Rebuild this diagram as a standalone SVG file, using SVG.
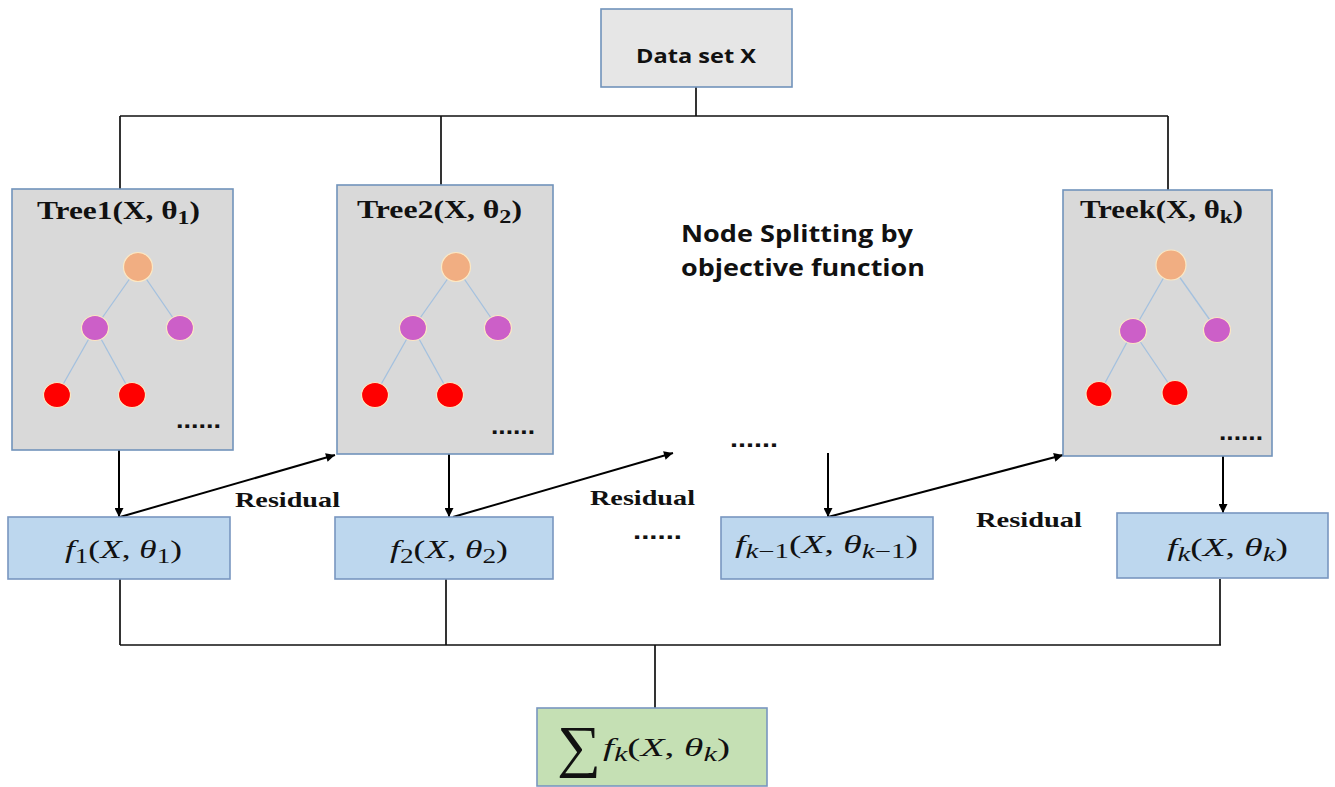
<svg xmlns="http://www.w3.org/2000/svg" width="1335" height="787" viewBox="0 0 1335 787">
  <defs>
    <marker id="arr" viewBox="0 0 10 10" refX="10" refY="5" markerWidth="11" markerHeight="9" markerUnits="userSpaceOnUse" orient="auto">
      <path d="M0,0 L10,5 L0,10 z" fill="#000"/>
    </marker>
    <style>
      .tree { fill: #d9d9d9; stroke: #7193bb; stroke-width: 1.6; }
      .data { fill: #e6e6e6; stroke: #7193bb; stroke-width: 1.6; }
      .fbox { fill: #bdd7ee; stroke: #7896c0; stroke-width: 1.6; }
      .sbox { fill: #c5e0b4; stroke: #7896c0; stroke-width: 1.6; }
      .wire { stroke: #111; stroke-width: 1.7; fill: none; }
      .arrow { stroke: #000; stroke-width: 2; fill: none; marker-end: url(#arr); }
      .edge { stroke: #a4c1df; stroke-width: 1.3; }
      .root { fill: #f1ae82; stroke: #fbe8c4; stroke-width: 1.2; }
      .mid { fill: #cc5fc8; stroke: #fbe8c4; stroke-width: 1.2; }
      .leaf { fill: #ff0000; stroke: #fbe8c4; stroke-width: 1.2; }
      .sans { font-family: "Open Sans", "Liberation Sans", sans-serif; font-weight: bold; fill: #111; }
      .ttl { font-family: "Liberation Serif", "DejaVu Serif", serif; font-weight: bold; font-size: 25px; fill: #111; }
      .ttl .sub { font-size: 19px; }
      .res { font-family: "Liberation Serif", serif; font-weight: bold; font-size: 22px; fill: #111; }
      .math { font-family: "Liberation Serif", "DejaVu Serif", serif; font-style: italic; font-size: 26px; fill: #111; }
      .up { font-style: normal; }
      .sub { font-size: 20px; }
      .dots { font-family: "Liberation Sans", sans-serif; font-weight: bold; font-size: 24px; fill: #111; }
    </style>
  </defs>

  <!-- connectors -->
  <g id="connectors">
    <path class="wire" d="M696,87 V116 M120,116 H1168 M120,116 V189 M441,116 V185 M1168,116 V190"/>
    <path class="wire" d="M120,579 V645 M446,579 V645 M1220,579 V645 M120,645 H1221 M655,645 V708"/>
    <line class="arrow" x1="119" y1="450" x2="119" y2="517"/>
    <line class="arrow" x1="449" y1="454" x2="449" y2="517"/>
    <line class="arrow" x1="828" y1="453" x2="828" y2="517"/>
    <line class="arrow" x1="1223" y1="456" x2="1223" y2="513"/>
    <line class="arrow" x1="120" y1="517" x2="335" y2="455"/>
    <line class="arrow" x1="453" y1="517" x2="673" y2="453"/>
    <line class="arrow" x1="828" y1="517" x2="1063" y2="455"/>
  </g>

  <g id="data-set">
    <rect class="data" x="601" y="9" width="191" height="78"/>
    <text class="sans" x="696" y="63" font-size="19" text-anchor="middle" textLength="120" lengthAdjust="spacingAndGlyphs">Data set X</text>
  </g>

  <g id="tree1">
    <rect class="tree" x="12" y="189" width="221" height="261"/>
    <text class="ttl" x="37" y="219" textLength="163" lengthAdjust="spacingAndGlyphs">Tree1(X, θ<tspan class="sub" dy="5">1</tspan><tspan dy="-5">)</tspan></text>
    <line class="edge" x1="138" y1="267" x2="95" y2="328"/>
    <line class="edge" x1="138" y1="267" x2="180" y2="328"/>
    <line class="edge" x1="95" y1="328" x2="57" y2="395"/>
    <line class="edge" x1="95" y1="328" x2="132" y2="395"/>
    <circle class="root" cx="138" cy="267" r="14.5"/>
    <ellipse class="mid" cx="95" cy="328" rx="13.5" ry="12.5"/>
    <ellipse class="mid" cx="180" cy="328" rx="13.5" ry="12.5"/>
    <ellipse class="leaf" cx="57" cy="395" rx="13.5" ry="12.5"/>
    <ellipse class="leaf" cx="132" cy="395" rx="13.5" ry="12.5"/>
    <text class="dots" x="176" y="428" textLength="45" lengthAdjust="spacingAndGlyphs">......</text>
  </g>

  <g id="tree2">
    <rect class="tree" x="337" y="185" width="216" height="269"/>
    <text class="ttl" x="357" y="218" textLength="165" lengthAdjust="spacingAndGlyphs">Tree2(X, θ<tspan class="sub" dy="5">2</tspan><tspan dy="-5">)</tspan></text>
    <line class="edge" x1="456" y1="267" x2="413" y2="328"/>
    <line class="edge" x1="456" y1="267" x2="498" y2="328"/>
    <line class="edge" x1="413" y1="328" x2="375" y2="395"/>
    <line class="edge" x1="413" y1="328" x2="450" y2="395"/>
    <circle class="root" cx="456" cy="267" r="14.5"/>
    <ellipse class="mid" cx="413" cy="328" rx="13.5" ry="12.5"/>
    <ellipse class="mid" cx="498" cy="328" rx="13.5" ry="12.5"/>
    <ellipse class="leaf" cx="375" cy="395" rx="13.5" ry="12.5"/>
    <ellipse class="leaf" cx="450" cy="395" rx="13.5" ry="12.5"/>
    <text class="dots" x="491" y="434" textLength="44" lengthAdjust="spacingAndGlyphs">......</text>
  </g>

  <g id="treek">
    <rect class="tree" x="1063" y="190" width="209" height="266"/>
    <text class="ttl" x="1080" y="218" textLength="163" lengthAdjust="spacingAndGlyphs">Treek(X, θ<tspan class="sub" dy="5">k</tspan><tspan dy="-5">)</tspan></text>
    <line class="edge" x1="1171" y1="265" x2="1133" y2="331"/>
    <line class="edge" x1="1171" y1="265" x2="1217" y2="330"/>
    <line class="edge" x1="1133" y1="331" x2="1099" y2="394"/>
    <line class="edge" x1="1133" y1="331" x2="1175" y2="393"/>
    <circle class="root" cx="1171" cy="265" r="15"/>
    <ellipse class="mid" cx="1133" cy="331" rx="13.5" ry="12.5"/>
    <ellipse class="mid" cx="1217" cy="330" rx="13.5" ry="12.5"/>
    <ellipse class="leaf" cx="1099" cy="394" rx="13" ry="12.5"/>
    <ellipse class="leaf" cx="1175" cy="393" rx="13" ry="12.5"/>
    <text class="dots" x="1219" y="440" textLength="44" lengthAdjust="spacingAndGlyphs">......</text>
  </g>

  <g id="note">
    <text class="sans" x="681" y="242" font-size="23.5" textLength="232" lengthAdjust="spacingAndGlyphs">Node Splitting by</text>
    <text class="sans" x="681" y="276" font-size="23.5" textLength="244" lengthAdjust="spacingAndGlyphs">objective function</text>
  </g>

  <g id="residual-labels">
    <text class="res" x="235" y="507" textLength="105" lengthAdjust="spacingAndGlyphs">Residual</text>
    <text class="res" x="590" y="505" textLength="105" lengthAdjust="spacingAndGlyphs">Residual</text>
    <text class="res" x="976" y="527" textLength="106" lengthAdjust="spacingAndGlyphs">Residual</text>
    <text class="dots" x="730" y="447" textLength="48" lengthAdjust="spacingAndGlyphs">......</text>
    <text class="dots" x="633" y="539" textLength="49" lengthAdjust="spacingAndGlyphs">......</text>
  </g>

  <g id="f1">
    <rect class="fbox" x="8" y="517" width="222" height="62"/>
    <text class="math" x="65" y="558" textLength="117" lengthAdjust="spacingAndGlyphs">f<tspan class="sub up" dy="5">1</tspan><tspan class="up" dy="-5">(</tspan>X<tspan class="up">, </tspan>θ<tspan class="sub up" dy="5">1</tspan><tspan class="up" dy="-5">)</tspan></text>
  </g>

  <g id="f2">
    <rect class="fbox" x="335" y="517" width="218" height="62"/>
    <text class="math" x="390" y="558" textLength="118" lengthAdjust="spacingAndGlyphs">f<tspan class="sub up" dy="5">2</tspan><tspan class="up" dy="-5">(</tspan>X<tspan class="up">, </tspan>θ<tspan class="sub up" dy="5">2</tspan><tspan class="up" dy="-5">)</tspan></text>
  </g>

  <g id="fk-1">
    <rect class="fbox" x="721" y="517" width="212" height="62"/>
    <text class="math" x="735" y="553" textLength="183" lengthAdjust="spacingAndGlyphs">f<tspan class="sub" dy="5">k</tspan><tspan class="sub up">−1</tspan><tspan class="up" dy="-5">(</tspan>X<tspan class="up">, </tspan>θ<tspan class="sub" dy="5">k</tspan><tspan class="sub up">−1</tspan><tspan class="up" dy="-5">)</tspan></text>
  </g>

  <g id="fk">
    <rect class="fbox" x="1117" y="513" width="211" height="65"/>
    <text class="math" x="1167" y="556" textLength="121" lengthAdjust="spacingAndGlyphs">f<tspan class="sub" dy="5">k</tspan><tspan class="up" dy="-5">(</tspan>X<tspan class="up">, </tspan>θ<tspan class="sub" dy="5">k</tspan><tspan class="up" dy="-5">)</tspan></text>
  </g>

  <g id="sum">
    <rect class="sbox" x="537" y="708" width="230" height="78"/>
    <text class="up" x="557" y="766" font-family="Liberation Serif, DejaVu Serif, serif" font-size="58" fill="#111" textLength="44" lengthAdjust="spacingAndGlyphs">∑</text>
    <text class="math" x="603" y="756" font-size="27" textLength="127" lengthAdjust="spacingAndGlyphs">f<tspan class="sub" dy="5">k</tspan><tspan class="up" dy="-5">(</tspan>X<tspan class="up">, </tspan>θ<tspan class="sub" dy="5">k</tspan><tspan class="up" dy="-5">)</tspan></text>
  </g>
</svg>
